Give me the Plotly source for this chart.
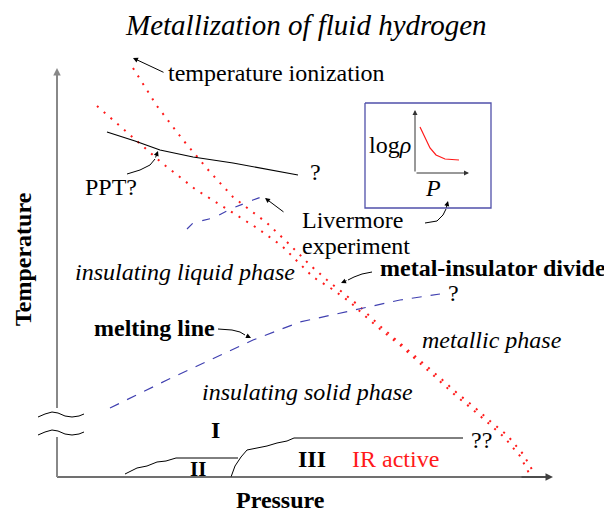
import plotly.graph_objects as go

# ---------- data (schematic coordinates, px space) ----------
ion_a_x = [97, 130, 162, 195, 240, 257, 282, 297, 313, 332, 350, 365, 380, 400, 436, 455, 471, 488, 504, 520, 530]
ion_a_y = [106, 135, 163, 189, 217, 228, 246, 261, 277, 289, 302, 316, 329, 345, 378, 395, 408, 423, 437, 456, 475]
ion_b_x = [133, 157, 183, 210, 233, 250, 267, 288, 310, 327, 343, 358, 380, 400, 438, 457, 473, 490, 507, 523, 534]
ion_b_y = [68, 106, 140, 172, 197, 210, 223, 243, 265, 280, 293, 305, 326, 343, 376, 393, 406, 421, 435, 454, 473]

ppt_x = [107, 135, 160, 193, 233, 298]
ppt_y = [132, 141, 150, 157, 163, 175]

liver_x = [187, 193, 213, 233, 253, 267]
liver_y = [229, 223, 218, 208, 200, 195]

melt_x = [110, 167, 210, 253, 300, 353, 400, 440]
melt_y = [408, 380, 360, 340, 322, 310, 300, 294]

phase2_x = [125, 137, 147, 157, 166, 176, 238]
phase2_y = [474, 468, 466, 462, 461, 458, 458]
phase3_x = [231, 235, 241, 247, 257, 267, 277, 287, 294, 463]
phase3_y = [477, 466, 457, 450, 448, 446, 443, 441, 438, 438]

haxis_x = [57, 551]
haxis_y = [477, 477]
vaxis_top_x = [57, 57]
vaxis_top_y = [408, 70]
vaxis_bot_x = [57, 57]
vaxis_bot_y = [437, 477]
squig_x = [38, 45, 52, 58, 65, 72, 79, 84]
squig1_y = [417, 414, 412, 413, 416, 417, 416, 414]
squig2_y = [435, 432, 430, 431, 434, 435, 434, 432]

box_x = [365, 491, 491, 365, 365]
box_y = [103, 103, 208, 208, 103]
rho_x = [420, 425, 430, 436, 445, 459]
rho_y = [127, 137, 148, 155, 159, 160]

ppt_arrow_x = [127, 140, 150, 155]
ppt_arrow_y = [174, 170, 165, 159]
inset_arrow_x = [425, 437, 443, 446]
inset_arrow_y = [223, 221, 215, 209]
mid_arrow_x = [372, 362, 354, 348]
mid_arrow_y = [272, 274, 277, 280]
melt_arrow_x = [218, 232, 240, 245]
melt_arrow_y = [329, 330, 332, 335]

SERIF = "Liberation Serif"
RED = "#ff1a1a"
BLUE = "#4040b0"

fig = go.Figure()


def line(x, y, color="black", width=1.0, dash="solid"):
    fig.add_trace(go.Scatter(x=x, y=y, mode="lines", hoverinfo="skip",
                             line=dict(color=color, width=width, dash=dash),
                             showlegend=False))


line(ion_a_x, ion_a_y, RED, 2, "2px,7px")
line(ion_b_x, ion_b_y, RED, 2, "2px,7px")
line(ppt_x, ppt_y, "black", 1.2)
line(liver_x, liver_y, BLUE, 1.2, "8px,10px")
line(melt_x, melt_y, BLUE, 1.2, "10px,9px")
line(phase2_x, phase2_y, "black", 1)
line(phase3_x, phase3_y, "black", 1)
line(haxis_x, haxis_y, "#404040", 1.6)
line(vaxis_top_x, vaxis_top_y, "#888888", 2)
line(vaxis_bot_x, vaxis_bot_y, "#888888", 2)
line(squig_x, squig1_y, "black", 1)
line(squig_x, squig2_y, "black", 1)
line(box_x, box_y, "#5050aa", 1.3)
line(rho_x, rho_y, RED, 1.2)
line(ppt_arrow_x, ppt_arrow_y, "black", 1)
line(inset_arrow_x, inset_arrow_y, "black", 1)
line(mid_arrow_x, mid_arrow_y, "black", 1)
line(melt_arrow_x, melt_arrow_y, "black", 1)


def arrow(x0, y0, x1, y1, color="black", width=1.0, size=1.0):
    fig.add_annotation(x=x1, y=y1, ax=x0, ay=y0, xref="x", yref="y",
                       axref="x", ayref="y", text="", showarrow=True,
                       arrowhead=2, arrowsize=size, arrowwidth=width,
                       arrowcolor=color, standoff=0, startstandoff=0)


arrow(165, 73, 133, 58)
arrow(155, 159, 158, 151)
arrow(285, 213, 265, 198)
arrow(446, 209, 448, 201)
arrow(348, 280, 341, 283)
arrow(245, 335, 251, 338)
arrow(57, 100, 57, 68, "#888888", 1.5, 1.0)
arrow(520, 477, 553, 477, "#404040", 1.5, 1.0)
arrow(415, 173, 415, 110, "#333333", 1, 1.0)
arrow(415, 173, 469, 173, "#333333", 1, 1.0)


def text(x, y, s, size=24, color="black", xanchor="center", textangle=0, family=SERIF):
    fig.add_annotation(x=x, y=y, xref="x", yref="y", text=s, showarrow=False,
                       xanchor=xanchor, yanchor="middle", textangle=textangle,
                       borderpad=0,
                       font=dict(family=family, size=size, color=color))


text(306, 25, "<i>Metallization of fluid hydrogen</i>", 29)
text(167, 73, "temperature ionization", 24, xanchor="left")
text(315, 172, "?", 24)
text(111, 187, "PPT?", 24)
text(301, 220, "Livermore", 24, xanchor="left")
text(301, 246, "experiment", 24, xanchor="left")
text(390, 145, "log<i>ρ</i>", 24)
text(433, 188, "<i>P</i>", 24)
text(379, 268, "<b>metal-insulator divide</b>", 24, xanchor="left")
text(453, 293, "?", 24)
text(74, 272, "<i>insulating liquid phase</i>", 24, xanchor="left")
text(216, 328, "<b>melting line</b>", 24, xanchor="right")
text(421, 340, "<i>metallic phase</i>", 24, xanchor="left")
text(201, 392, "<i>insulating solid phase</i>", 24, xanchor="left")
text(215, 430, "<b>I</b>", 24)
text(198, 469, "<b>II</b>", 21)
text(312, 459, "<b>III</b>", 24)
text(351, 459, "IR active", 24, RED, xanchor="left")
text(481, 440, "??", 24)
text(23, 259, "<b>Temperature</b>", 24, textangle=-90)
text(280, 500, "<b>Pressure</b>", 24)

# the page adds an 8px body margin; the figure fills the rest of the window
fig.update_layout(
    width=604, height=506,
    margin=dict(l=0, r=0, t=0, b=0),
    paper_bgcolor="white", plot_bgcolor="white",
    xaxis=dict(range=[8, 612], visible=False, fixedrange=True),
    yaxis=dict(range=[514, 8], visible=False, fixedrange=True),
    showlegend=False,
)

fig.write_html("out.html")
